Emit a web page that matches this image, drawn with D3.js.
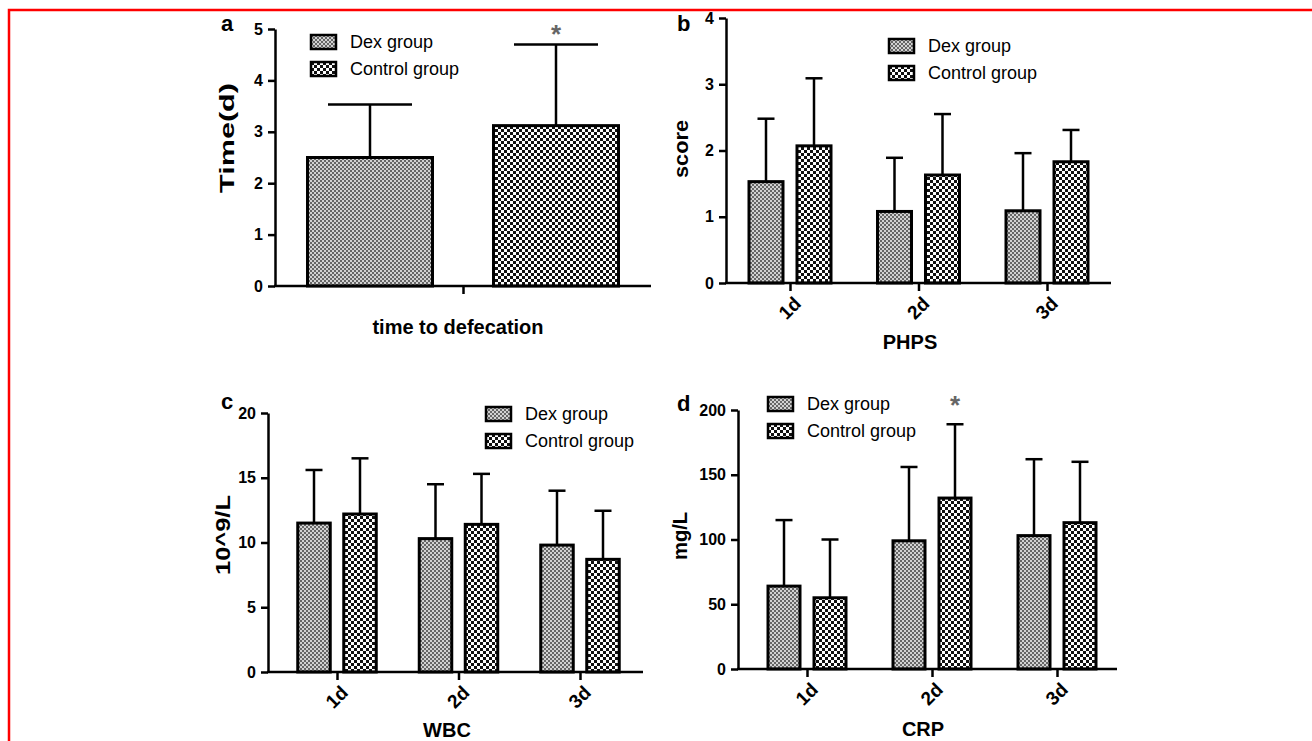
<!DOCTYPE html>
<html>
<head>
<meta charset="utf-8">
<script src="https://cdn.jsdelivr.net/npm/d3@7"></script>
<style>
  html, body { margin: 0; padding: 0; background: #fff; }
  svg { display: block; font-family: "Liberation Sans", Arial, sans-serif; }
</style>
</head>
<body>
<svg id="chart" width="1312" height="741"></svg>
<script>
// Data (mean and SD per group)
const groups = ['Dex group', 'Control group'];
const defecCats = ['time to defecation'];
const defecDex = [2.5];
const defecDexSd = [1.03];
const defecCtl = [3.12];
const defecCtlSd = [1.58];

const days = ['1d', '2d', '3d'];
const phpsDex = [1.53, 1.08, 1.09];
const phpsDexSd = [0.95, 0.81, 0.87];
const phpsCtl = [2.07, 1.63, 1.83];
const phpsCtlSd = [1.02, 0.92, 0.48];

const wbcDex = [11.5, 10.3, 9.8];
const wbcDexSd = [4.1, 4.2, 4.2];
const wbcCtl = [12.2, 11.4, 8.7];
const wbcCtlSd = [4.3, 3.9, 3.75];

const crpDex = [64, 99, 103];
const crpDexSd = [51, 57, 59];
const crpCtl = [55, 132, 113];
const crpCtlSd = [45, 57, 47];

// categories marked with * (control vs dex)
const defecSig = ['time to defecation'];
const crpSig = ['2d'];

const svg = d3.select('#chart');

// red frame
svg.append('path')
  .attr('d', 'M9,741 V10 H1312')
  .attr('fill', 'none')
  .attr('stroke', '#ff0000')
  .attr('stroke-width', 2.5);

// fill patterns
const defs = svg.append('defs');
const dexPat = defs.append('pattern')
  .attr('id', 'dex').attr('patternUnits', 'userSpaceOnUse')
  .attr('width', 4).attr('height', 4);
dexPat.append('rect').attr('width', 4).attr('height', 4).attr('fill', '#d2d2d2');
dexPat.append('rect').attr('width', 2).attr('height', 2).attr('fill', '#666');
dexPat.append('rect').attr('x', 2).attr('y', 2).attr('width', 2).attr('height', 2).attr('fill', '#666');

const ctlPat = defs.append('pattern')
  .attr('id', 'ctl').attr('patternUnits', 'userSpaceOnUse')
  .attr('width', 6).attr('height', 6);
ctlPat.append('rect').attr('width', 6).attr('height', 6).attr('fill', '#fff');
ctlPat.append('rect').attr('width', 3).attr('height', 3).attr('fill', '#111');
ctlPat.append('rect').attr('x', 3).attr('y', 3).attr('width', 3).attr('height', 3).attr('fill', '#111');

const fills = { 'Dex group': 'url(#dex)', 'Control group': 'url(#ctl)' };

const drawPanel = (cfg) => {
  const g = svg.append('g');

  const y = d3.scaleLinear().domain([0, cfg.yMax]).range([cfg.y0, cfg.yTop]);
  const x0 = d3.scalePoint().domain(cfg.cats).range(cfg.xRange);
  const x1 = d3.scaleBand().domain(groups)
    .range([-(cfg.barW + cfg.gap / 2), cfg.barW + cfg.gap / 2])
    .paddingInner(cfg.gap / (cfg.barW + cfg.gap));

  const rows = [];
  cfg.cats.forEach((c, i) => {
    rows.push({ cat: c, grp: 'Dex group', v: cfg.dex[i], sd: cfg.dexSd[i] });
    rows.push({ cat: c, grp: 'Control group', v: cfg.ctl[i], sd: cfg.ctlSd[i] });
  });

  // error bars (upper only)
  const eb = g.selectAll('.eb').data(rows).join('g')
    .attr('transform', d => `translate(${x0(d.cat) + x1(d.grp) + x1.bandwidth() / 2},0)`);
  eb.append('line')
    .attr('y1', d => y(d.v)).attr('y2', d => y(d.v + d.sd))
    .attr('stroke', '#000').attr('stroke-width', 2.5);
  eb.append('line')
    .attr('x1', -cfg.capW / 2).attr('x2', cfg.capW / 2)
    .attr('y1', d => y(d.v + d.sd)).attr('y2', d => y(d.v + d.sd))
    .attr('stroke', '#000').attr('stroke-width', 2.5);

  // bars
  g.selectAll('.bar').data(rows).join('rect')
    .attr('x', d => x0(d.cat) + x1(d.grp))
    .attr('y', d => y(d.v))
    .attr('width', x1.bandwidth())
    .attr('height', d => cfg.y0 - y(d.v))
    .attr('fill', d => fills[d.grp])
    .attr('stroke', '#000')
    .attr('stroke-width', 3);

  // significance stars
  g.selectAll('.star').data(rows.filter(d => d.grp === 'Control group' && cfg.sig.includes(d.cat)))
    .join('text')
    .attr('x', d => x0(d.cat) + x1(d.grp) + x1.bandwidth() / 2)
    .attr('y', cfg.starY)
    .attr('text-anchor', 'middle')
    .attr('fill', '#666')
    .attr('font-size', 26)
    .attr('font-weight', 'bold')
    .text('*');

  // y axis
  const yAxis = g.append('g')
    .attr('transform', `translate(${cfg.axisX},0)`)
    .call(d3.axisLeft(y).tickValues(cfg.yTicks).tickFormat(d3.format('d'))
      .tickSize(7).tickSizeOuter(0).tickPadding(5));
  yAxis.selectAll('path, line').attr('stroke', '#000').attr('stroke-width', 2.5);
  yAxis.selectAll('text').attr('font-size', 16).attr('font-weight', 'bold')
    .attr('font-family', '"Liberation Sans", Arial, sans-serif').attr('fill', '#000');

  // x axis
  g.append('line')
    .attr('x1', cfg.axisX - 1).attr('x2', cfg.xEnd)
    .attr('y1', cfg.y0).attr('y2', cfg.y0)
    .attr('stroke', '#000').attr('stroke-width', 2.5);
  const xAxis = g.append('g')
    .attr('transform', `translate(0,${cfg.y0})`)
    .call(d3.axisBottom(x0).tickSize(8).tickSizeOuter(0));
  xAxis.select('.domain').remove();
  xAxis.selectAll('line').attr('stroke', '#000').attr('stroke-width', 2.5);
  if (cfg.tickLabels) {
    xAxis.selectAll('text')
      .attr('x', 0).attr('y', 0).attr('dy', '0.35em')
      .attr('transform', 'translate(7,17) rotate(-45)')
      .attr('text-anchor', 'end')
      .attr('font-size', 19).attr('font-weight', 'bold')
      .attr('font-family', '"Liberation Sans", Arial, sans-serif').attr('fill', '#000');
  } else {
    xAxis.selectAll('text').remove();
  }

  // titles
  g.append('text')
    .attr('x', cfg.xTitle[0]).attr('y', cfg.xTitle[1])
    .attr('text-anchor', 'middle')
    .attr('font-size', 20).attr('font-weight', 'bold')
    .text(cfg.xLabel);
  g.append('text')
    .attr('transform', `translate(${cfg.yTitle[0]},${cfg.yTitle[1]}) rotate(-90)`)
    .attr('text-anchor', 'middle')
    .attr('font-size', 20).attr('font-weight', 'bold')
    .attr('textLength', cfg.yTitle[2]).attr('lengthAdjust', 'spacingAndGlyphs')
    .text(cfg.yLabel);
  g.append('text')
    .attr('x', cfg.letter[1]).attr('y', cfg.letter[2])
    .attr('font-size', 22).attr('font-weight', 'bold')
    .text(cfg.letter[0]);

  // legend
  const leg = g.selectAll('.leg').data(groups).join('g')
    .attr('transform', (d, i) => `translate(${cfg.legend[0]},${cfg.legend[1] + i * 27})`);
  leg.append('rect')
    .attr('width', 25).attr('height', 14)
    .attr('fill', d => fills[d])
    .attr('stroke', '#000').attr('stroke-width', 2.5);
  leg.append('text')
    .attr('x', 39).attr('y', 7).attr('dy', '0.35em')
    .attr('font-size', 18)
    .text(d => d);
};

drawPanel({
  cats: defecCats, dex: defecDex, dexSd: defecDexSd, ctl: defecCtl, ctlSd: defecCtlSd, sig: defecSig,
  yMax: 5, yTicks: [0, 1, 2, 3, 4, 5], y0: 286, yTop: 29,
  axisX: 275, xEnd: 651, xRange: [463, 463], barW: 125, gap: 61, capW: 84,
  tickLabels: false, starY: 43,
  xLabel: 'time to defecation', xTitle: [458, 334],
  yLabel: 'Time(d)', yTitle: [234, 138, 110],
  letter: ['a', 221, 31], legend: [311, 35]
});

drawPanel({
  cats: days, dex: phpsDex, dexSd: phpsDexSd, ctl: phpsCtl, ctlSd: phpsCtlSd, sig: [],
  yMax: 4, yTicks: [0, 1, 2, 3, 4], y0: 283, yTop: 18,
  axisX: 726, xEnd: 1111, xRange: [790, 1047], barW: 34, gap: 14, capW: 17,
  tickLabels: true, starY: 0,
  xLabel: 'PHPS', xTitle: [910, 349],
  yLabel: 'score', yTitle: [688, 149, 58],
  letter: ['b', 677, 31], legend: [889, 39]
});

drawPanel({
  cats: days, dex: wbcDex, dexSd: wbcDexSd, ctl: wbcCtl, ctlSd: wbcCtlSd, sig: [],
  yMax: 20, yTicks: [0, 5, 10, 15, 20], y0: 672, yTop: 413,
  axisX: 268, xEnd: 643, xRange: [337, 580], barW: 32.5, gap: 13.5, capW: 17,
  tickLabels: true, starY: 0,
  xLabel: 'WBC', xTitle: [447, 737],
  yLabel: '10^9/L', yTitle: [230, 535, 80],
  letter: ['c', 221, 409], legend: [486, 407]
});

drawPanel({
  cats: days, dex: crpDex, dexSd: crpDexSd, ctl: crpCtl, ctlSd: crpCtlSd, sig: crpSig,
  yMax: 200, yTicks: [0, 50, 100, 150, 200], y0: 669, yTop: 410,
  axisX: 738, xEnd: 1117, xRange: [807, 1057], barW: 32, gap: 14, capW: 17,
  tickLabels: true, starY: 414,
  xLabel: 'CRP', xTitle: [923, 736],
  yLabel: 'mg/L', yTitle: [687, 536, 48],
  letter: ['d', 677, 411], legend: [768, 397]
});
</script>
</body>
</html>
